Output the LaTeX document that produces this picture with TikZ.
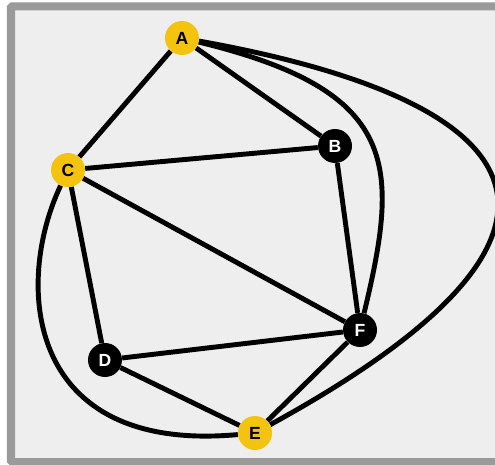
\documentclass[tikz,border=0pt]{standalone}
\usepackage{fontspec}
\usetikzlibrary{backgrounds}
\newfontfamily\vtxfont{Liberation Sans}
\definecolor{Gold}  {HTML}{F4C30F}
\definecolor{Panel} {HTML}{EEEEEE}
\definecolor{Rim}   {HTML}{9A9A9A}
\pgfdeclarelayer{edges}
\pgfsetlayers{background,edges,main}
\tikzset{
  vtx/.style={
    circle, inner sep=0pt, minimum size=1.02cm,
    font=\vtxfont\bfseries\fontsize{15}{17}\selectfont,
  },
  gvtx/.style={vtx, fill=Gold, text=black},
  kvtx/.style={vtx, fill=black, text=white},
  edge/.style={draw=black, line width=4.2pt},
  frame/.style={fill=Panel, draw=Rim, line width=0.24cm, rounded corners=1pt},
}
\begin{document}
\begin{tikzpicture}[x=0.03cm,y=0.03cm]
  \useasboundingbox (0,0) rectangle (495,464);
  \begin{pgfonlayer}{background}
    \clip (0,0) rectangle (495,464);
    \draw[frame] (11,2) rectangle (540,457.7);
  \end{pgfonlayer}
  % vertices
  \node[gvtx] (A) at (182,426) {A};
  \node[kvtx] (B) at (335,318) {B};
  \node[gvtx] (C) at (68,294)  {C};
  \node[kvtx] (D) at (105,104) {D};
  \node[gvtx] (E) at (255,31)  {E};
  \node[kvtx] (F) at (360,134) {F};
  \begin{pgfonlayer}{edges}
    \foreach \u/\v in {A/C, A/B, C/B, C/F, C/D, B/F, D/F, D/E, F/E}
      \draw[edge] (\u) -- (\v);
    \draw[edge] (A) .. controls (400,373) and (400,300) .. (F);
    \draw[edge] (A) .. controls (550,360) and (615,228) .. (E);
    \draw[edge] (C) .. controls (14,180) and (25,10) .. (E);
  \end{pgfonlayer}
\end{tikzpicture}
\end{document}
